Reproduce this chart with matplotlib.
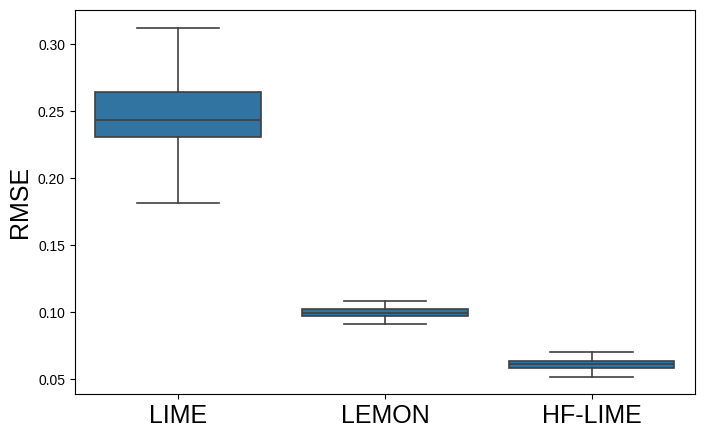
import matplotlib
matplotlib.use("Agg")
import matplotlib.pyplot as plt

plt.rcParams['font.family'] = ['Liberation Sans', 'DejaVu Sans']

methods = ['LIME', 'LEMON', 'HF-LIME']
whislo = [0.1817, 0.0914, 0.0520]
q1 = [0.2308, 0.0974, 0.0587]
med = [0.2435, 0.0996, 0.0612]
q3 = [0.2643, 0.1023, 0.0639]
whishi = [0.3126, 0.1088, 0.0701]

stats = []
for i, m in enumerate(methods):
    stats.append(dict(label=m, whislo=whislo[i], q1=q1[i], med=med[i],
                      q3=q3[i], whishi=whishi[i], fliers=[]))

fig, ax = plt.subplots(figsize=(7.05, 4.37), dpi=100)
line_c = '#3f3f3f'
lw = 1.2
ax.bxp(stats, positions=range(len(methods)), widths=0.8, patch_artist=True,
       showfliers=False,
       boxprops=dict(facecolor='#3274a1', edgecolor=line_c, linewidth=lw),
       medianprops=dict(color=line_c, linewidth=lw),
       whiskerprops=dict(color=line_c, linewidth=lw),
       capprops=dict(color=line_c, linewidth=lw),
       capwidths=0.4)
ax.set_xlim(-0.5, 2.5)
ax.set_xticks(range(len(methods)))
ax.set_xticklabels(methods, fontsize=18)
ax.tick_params(axis='y', labelsize=10)
ax.set_ylabel('RMSE', fontsize=18)

plt.subplots_adjust(left=0.106, right=0.986, top=0.977, bottom=0.098)
plt.savefig('out.png', dpi=100)
